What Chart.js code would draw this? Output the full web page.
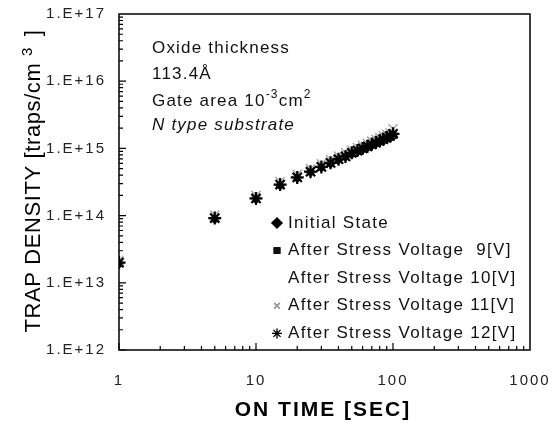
<!DOCTYPE html>
<html>
<head>
<meta charset="utf-8">
<script src="https://cdn.jsdelivr.net/npm/chart.js@4/dist/chart.umd.min.js"></script>
<style>
  html, body { margin: 0; padding: 0; background: #fff; }
  #wrap { width: 555px; height: 427px; }
</style>
</head>
<body>
<div id="wrap"><canvas id="trap"></canvas></div>
<script>
// on time [sec]
const onTime = [1, 5, 10, 15, 20, 25, 30, 35, 40, 45, 50, 55, 60, 65, 70, 75, 80, 85, 90, 95, 100];

// trap density [traps/cm3]
const initialState = [1.9e13, 8.8e13, 1.75e14, 2.8e14, 3.6e14, 4.4e14, 5.2e14, 5.9e14, 6.7e14, 7.4e14, 8.2e14, 8.9e14, 9.6e14, 1.03e15, 1.10e15, 1.17e15, 1.24e15, 1.31e15, 1.38e15, 1.45e15, 1.52e15];
const stress9V = [1.95e13, 9.0e13, 1.78e14, 2.85e14, 3.7e14, 4.5e14, 5.3e14, 6.1e14, 6.9e14, 7.6e14, 8.4e14, 9.1e14, 9.8e14, 1.05e15, 1.12e15, 1.20e15, 1.27e15, 1.34e15, 1.41e15, 1.48e15, 1.56e15];
const stress10V = [2.05e13, 9.6e13, 1.9e14, 3.0e14, 3.9e14, 4.8e14, 5.6e14, 6.5e14, 7.3e14, 8.1e14, 8.9e14, 9.7e14, 1.05e15, 1.13e15, 1.20e15, 1.28e15, 1.36e15, 1.44e15, 1.52e15, 1.60e15, 1.68e15];
const stress11V = [2.15e13, 1.02e14, 2.0e14, 3.2e14, 4.1e14, 5.0e14, 5.9e14, 6.8e14, 7.7e14, 8.6e14, 9.4e14, 1.03e15, 1.11e15, 1.19e15, 1.28e15, 1.36e15, 1.45e15, 1.53e15, 1.62e15, 1.70e15, 1.95e15];
const stress12V = [2.0e13, 9.2e13, 1.8e14, 2.9e14, 3.7e14, 4.5e14, 5.3e14, 6.1e14, 6.9e14, 7.6e14, 8.6e14, 9.3e14, 1.0e15, 1.07e15, 1.15e15, 1.22e15, 1.30e15, 1.37e15, 1.45e15, 1.53e15, 1.65e15];

const seriesNames = ['Initial State', 'After Stress Voltage  9[V]', 'After Stress Voltage 10[V]', 'After Stress Voltage 11[V]', 'After Stress Voltage 12[V]'];

const xTickLabels = ['1', '10', '100', '1000'];
const yTickLabels = ['1.E+12', '1.E+13', '1.E+14', '1.E+15', '1.E+16', '1.E+17'];

const FONT = '"Liberation Sans", Arial, sans-serif';

function pts(ys) {
  return onTime.map((t, i) => ({ x: t, y: ys[i] }));
}

const styles = [
  { pointStyle: 'rectRot', color: '#000', radius: 4.5, width: 1 },
  { pointStyle: 'rect', color: '#111', radius: 4, width: 1 },
  { pointStyle: 'line', color: '#ddd', radius: 5, width: 1 },
  { pointStyle: 'crossRot', color: '#aaa', radius: 6.5, width: 1.5 },
  { pointStyle: 'star', color: '#000', radius: 6.5, width: 2.2 }
];
const values = [initialState, stress9V, stress10V, stress11V, stress12V];

const datasets = values.map((v, i) => ({
  label: seriesNames[i],
  data: pts(v),
  pointStyle: styles[i].pointStyle,
  pointRadius: styles[i].radius,
  pointBorderWidth: styles[i].width,
  borderColor: styles[i].color,
  backgroundColor: styles[i].color,
  showLine: false,
  order: 4 - i
}));

// frame, inward ticks, titles, notes and legend
const decor = {
  id: 'decor',
  beforeDraw(chart) {
    chart.ctx.letterSpacing = '2px';
  },
  afterDraw(chart) {
    const ctx = chart.ctx;
    const a = chart.chartArea;
    const xs = chart.scales.x, ys = chart.scales.y;
    ctx.save();
    ctx.letterSpacing = '0px';
    ctx.strokeStyle = '#000';
    ctx.lineWidth = 1.5;
    ctx.strokeRect(a.left, a.top, a.right - a.left, a.bottom - a.top);

    ctx.lineWidth = 1.2;
    ctx.beginPath();
    for (let e = 0; e < 3; e++) {
      for (let m = 1; m <= 9; m++) {
        const px = xs.getPixelForValue(m * Math.pow(10, e));
        const len = m === 1 ? 7 : 4;
        ctx.moveTo(px, a.bottom);
        ctx.lineTo(px, a.bottom - len);
      }
    }
    for (let e = 12; e < 17; e++) {
      for (let m = 1; m <= 9; m++) {
        const py = ys.getPixelForValue(m * Math.pow(10, e));
        const len = m === 1 ? 7 : 4;
        ctx.moveTo(a.left, py);
        ctx.lineTo(a.left + len, py);
      }
    }
    ctx.stroke();

    // axis titles
    ctx.fillStyle = '#000';
    ctx.letterSpacing = '2px';
    ctx.font = 'bold 21px ' + FONT;
    ctx.textAlign = 'center';
    ctx.textBaseline = 'middle';
    ctx.fillText('ON TIME [SEC]', 323, 410);

    ctx.save();
    ctx.translate(40, 181);
    ctx.rotate(-Math.PI / 2);
    ctx.letterSpacing = '0.6px';
    ctx.font = '22px ' + FONT;
    ctx.textAlign = 'left';
    ctx.textBaseline = 'alphabetic';
    const main = 'TRAP DENSITY [traps/cm ';
    const w1 = ctx.measureText(main).width;
    const wSup = 13, wEnd = ctx.measureText(' ]').width;
    let x0 = -(w1 + wSup + wEnd) / 2;
    ctx.fillText(main, x0, 0);
    ctx.font = '15px ' + FONT;
    ctx.fillText('3', x0 + w1, -8);
    ctx.font = '22px ' + FONT;
    ctx.fillText(' ]', x0 + w1 + wSup, 0);
    ctx.restore();

    // sample notes
    ctx.letterSpacing = '1.2px';
    ctx.textAlign = 'left';
    ctx.textBaseline = 'alphabetic';
    ctx.fillStyle = '#111';
    ctx.font = '17px ' + FONT;
    const nx = 152;
    ctx.fillText('Oxide thickness', nx, 53);
    ctx.fillText('113.4Å', nx, 79);
    let gx = nx;
    ctx.fillText('Gate area 10', gx, 106);
    gx += ctx.measureText('Gate area 10').width;
    ctx.font = '12px ' + FONT;
    ctx.fillText('-3', gx, 98);
    gx += ctx.measureText('-3').width;
    ctx.font = '17px ' + FONT;
    ctx.fillText('cm', gx, 106);
    gx += ctx.measureText('cm').width;
    ctx.font = '12px ' + FONT;
    ctx.fillText('2', gx, 98);
    ctx.font = 'italic 17px ' + FONT;
    ctx.fillText('N type substrate', nx, 130);

    // legend
    ctx.font = '17px ' + FONT;
    ctx.letterSpacing = '1.3px';
    ctx.textBaseline = 'middle';
    const lx = 277, ly0 = 223, step = 27.6;
    chart.data.datasets.forEach((ds, i) => {
      const y = ly0 + i * step;
      if (i !== 2) {
        Chart.helpers.drawPoint(ctx, {
          pointStyle: ds.pointStyle,
          radius: i === 4 ? 5 : (i === 0 ? 5 : 4),
          borderWidth: ds.pointBorderWidth
        }, lx, y);
        ctx.fillStyle = ds.backgroundColor;
        ctx.strokeStyle = ds.borderColor;
        ctx.fill();
        ctx.stroke();
      }
      ctx.fillStyle = '#111';
      ctx.fillText(ds.label, 288, y);
    });
    ctx.restore();
  }
};

new Chart(document.getElementById('trap'), {
  type: 'scatter',
  data: { datasets: datasets },
  plugins: [decor],
  options: {
    responsive: true,
    maintainAspectRatio: false,
    animation: false,
    layout: { padding: { top: 14, right: 25, left: 0, bottom: 0 } },
    plugins: {
      legend: { display: false },
      tooltip: { enabled: false }
    },
    scales: {
      x: {
        type: 'logarithmic',
        min: 1,
        max: 1000,
        grid: { display: false },
        border: { display: false },
        afterFit: s => { s.height = 77; s.paddingLeft = 0; s.paddingRight = 0; },
        ticks: {
          autoSkip: false,
          maxRotation: 0,
          padding: 14,
          color: '#222',
          font: { family: FONT, size: 15 },
          callback: v => {
            const e = Math.log10(v);
            return Math.abs(e - Math.round(e)) < 1e-9 ? xTickLabels[Math.round(e)] : '';
          }
        }
      },
      y: {
        type: 'logarithmic',
        min: 1e12,
        max: 1e17,
        grid: { display: false },
        border: { display: false },
        afterFit: s => { s.width = 119; s.paddingTop = 0; s.paddingBottom = 0; },
        ticks: {
          autoSkip: false,
          padding: 5,
          color: '#222',
          font: { family: FONT, size: 15 },
          callback: v => {
            const e = Math.log10(v);
            return Math.abs(e - Math.round(e)) < 1e-9 ? yTickLabels[Math.round(e) - 12] : '';
          }
        }
      }
    }
  }
});
</script>
</body>
</html>
